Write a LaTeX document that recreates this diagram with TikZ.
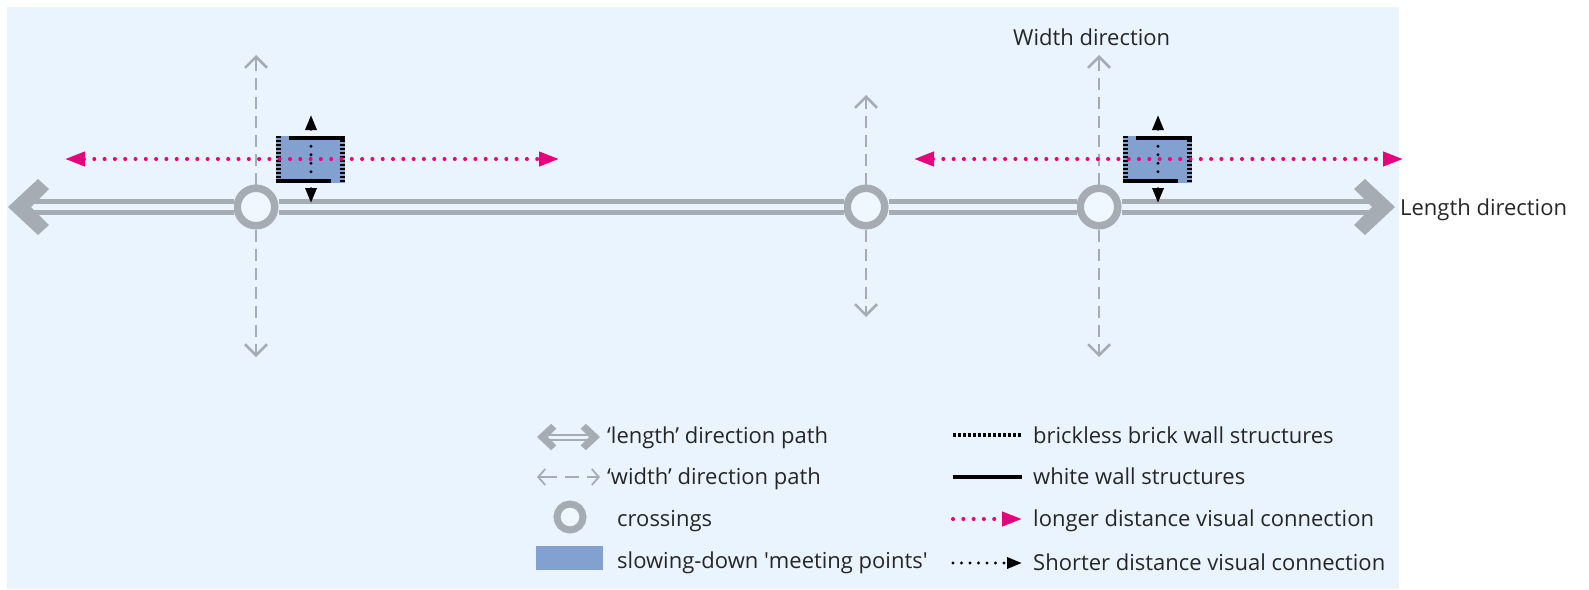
\documentclass[tikz,border=0pt]{standalone}
\usepackage{fontspec}
\setmainfont{Open Sans}
\usetikzlibrary{arrows.meta}
\definecolor{bgblue}{HTML}{EAF4FE}
\definecolor{ringfill}{HTML}{EFF7FF}
\definecolor{pathgray}{HTML}{A5ACB3}
\definecolor{meetblue}{HTML}{82A0D0}
\definecolor{pinkconn}{HTML}{E6007E}
\definecolor{textgray}{HTML}{262626}

\begin{document}
\begin{tikzpicture}[x=1pt, y=-1pt, font=\fontsize{22}{26}\selectfont, text=textgray,
  lbl/.style={inner sep=0, anchor=base west},
  lenpath/.style={draw=pathgray, line width=4.5pt, double=bgblue, double distance=6.5pt},
  lenhead/.pic={\fill[pathgray] (0,0) -- (30,-28) -- (41,-18) -- (23,0) -- (41,18) -- (30,28) -- cycle;},
  widthpath/.style={draw=pathgray, line width=2.5pt, dash pattern=on 12pt off 7pt, -{Straight Barb[length=11pt, width=22pt]}},
  crossing/.style={circle, draw=pathgray, line width=7.5pt, fill=ringfill, inner sep=0, minimum size=37.5pt},
  meeting/.style={rectangle, fill=meetblue, inner sep=0, minimum width=69pt, minimum height=47pt},
  whitewall/.style={draw=black, line width=4pt},
  bricklesswall/.style={draw=black, line width=5pt, dash pattern=on 2pt off 2pt},
  longconn/.style={draw=pinkconn, line width=4pt, line cap=round, dash pattern=on 0pt off 10.3pt},
  longtip/.style={-{Triangle[length=20pt, width=14pt]}},
  longboth/.style={{Triangle[length=20pt, width=14pt]}-{Triangle[length=20pt, width=14pt]}},
  shortconn/.style={draw=black, line width=3.2pt, line cap=round, dash pattern=on 0pt off 8.5pt},
  shorttip/.style={-{Triangle[length=15pt, width=11pt]}},
  shortboth/.style={{Triangle[length=15pt, width=11pt]}-{Triangle[length=15pt, width=11pt]}}]
\useasboundingbox (0,0) rectangle (1589,589);
\fill[bgblue] (7,7) rectangle (1399,589);

\coordinate (lenW) at (8,207);
\coordinate (lenE) at (1395,207);
\node[crossing] (c1) at (256,207) {};
\node[crossing] (c2) at (866,207) {};
\node[crossing] (c3) at (1099,207) {};
\coordinate (w1n) at (256,55);
\coordinate (w1s) at (256,357);
\coordinate (w2n) at (866,95);
\coordinate (w2s) at (866,317);
\coordinate (w3n) at (1099,55);
\coordinate (w3s) at (1099,357);

\draw[lenpath] ([xshift=22pt]lenW) -- (c1);
\draw[lenpath] (c1) -- (c2);
\draw[lenpath] (c2) -- (c3);
\draw[lenpath] (c3) -- ([xshift=-22pt]lenE);
\pic at (lenW) {lenhead};
\pic[rotate=180] at (lenE) {lenhead};
\draw[widthpath] (c1) -- (w1n);
\draw[widthpath] (c1) -- (w1s);
\draw[widthpath] (c2) -- (w2n);
\draw[widthpath] (c2) -- (w2s);
\draw[widthpath] (c3) -- (w3n);
\draw[widthpath] (c3) -- (w3s);

\node[meeting] (m1) at (310.5,159.5) {};
\node[meeting] (m2) at (1157.5,159.5) {};
\draw[whitewall] ([xshift=13pt,yshift=-2pt]m1.north west) -- ([yshift=-2pt]m1.north east);
\draw[whitewall] ([yshift=2pt]m1.south west) -- ([xshift=-14pt,yshift=2pt]m1.south east);
\draw[bricklesswall] ([xshift=2.5pt]m1.north west) -- ([xshift=2.5pt]m1.south west);
\draw[bricklesswall] ([xshift=-2.5pt]m1.north east) -- ([xshift=-2.5pt]m1.south east);
\draw[whitewall] ([xshift=13pt,yshift=-2pt]m2.north west) -- ([yshift=-2pt]m2.north east);
\draw[whitewall] ([yshift=2pt]m2.south west) -- ([xshift=-14pt,yshift=2pt]m2.south east);
\draw[bricklesswall] ([xshift=2.5pt]m2.north west) -- ([xshift=2.5pt]m2.south west);
\draw[bricklesswall] ([xshift=-2.5pt]m2.north east) -- ([xshift=-2.5pt]m2.south east);

\coordinate (l1w) at (65,159);
\coordinate (l1e) at (559,159);
\coordinate (l2w) at (914,159);
\coordinate (l2e) at (1403,159);
\draw[longconn, longboth] (l1w) -- (l1e);
\draw[longconn, longboth] (l2w) -- (l2e);
\coordinate (s1n) at (311,115);
\coordinate (s1s) at (311,203);
\coordinate (s2n) at (1158,115);
\coordinate (s2s) at (1158,203);
\draw[shortconn, shortboth] (s1s) -- (s1n);
\draw[shortconn, shortboth] (s2s) -- (s2n);

\node[lbl] (widthlbl) at (1013,45) {Width direction};
\node[lbl] (lengthlbl) at (1400,215) {Length direction};

\coordinate (k1w) at (537,437);
\coordinate (k1e) at (600,437);
\draw[draw=pathgray, line width=2pt, double=bgblue, double distance=3pt] ([xshift=10pt]k1w) -- ([xshift=-10pt]k1e);
\pic[scale=0.47] at (k1w) {lenhead};
\pic[scale=0.47, rotate=180] at (k1e) {lenhead};
\coordinate (k2w) at (537,477);
\coordinate (k2e) at (600,477);
\draw[draw=pathgray, line width=1.8pt, dash pattern=on 18pt off 8pt on 14pt off 8pt,
  {Straight Barb[length=7pt, width=16pt]}-{Straight Barb[length=7pt, width=16pt]}] (k2w) -- (k2e);
\node[crossing, line width=7pt, minimum size=26pt] (k3) at (570,517) {};
\node[meeting, minimum width=67pt, minimum height=24pt] (k4) at (569.5,558) {};
\node[lbl] at (607,443) {‘length’ direction path};
\node[lbl] at (607,484) {‘width’ direction path};
\node[lbl] at (617,526) {crossings};
\node[lbl] at (617,568) {slowing-down \textquotesingle meeting points\textquotesingle};

\coordinate (k5w) at (953,435);
\coordinate (k5e) at (1022,435);
\draw[draw=black, line width=4pt, dash pattern=on 2.5pt off 2.5pt] (k5w) -- (k5e);
\coordinate (k6w) at (953,477);
\coordinate (k6e) at (1022,477);
\draw[whitewall] (k6w) -- (k6e);
\coordinate (k7w) at (953,519);
\coordinate (k7e) at (1022,519);
\draw[longconn, longtip] (k7w) -- (k7e);
\coordinate (k8w) at (953,563);
\coordinate (k8e) at (1022,563);
\draw[shortconn, shorttip] (k8w) -- (k8e);
\node[lbl] at (1033,443) {brickless brick wall structures};
\node[lbl] at (1033,484) {white wall structures};
\node[lbl] at (1033,526) {longer distance visual connection};
\node[lbl] at (1033,570) {Shorter distance visual connection};
\end{tikzpicture}
\end{document}
